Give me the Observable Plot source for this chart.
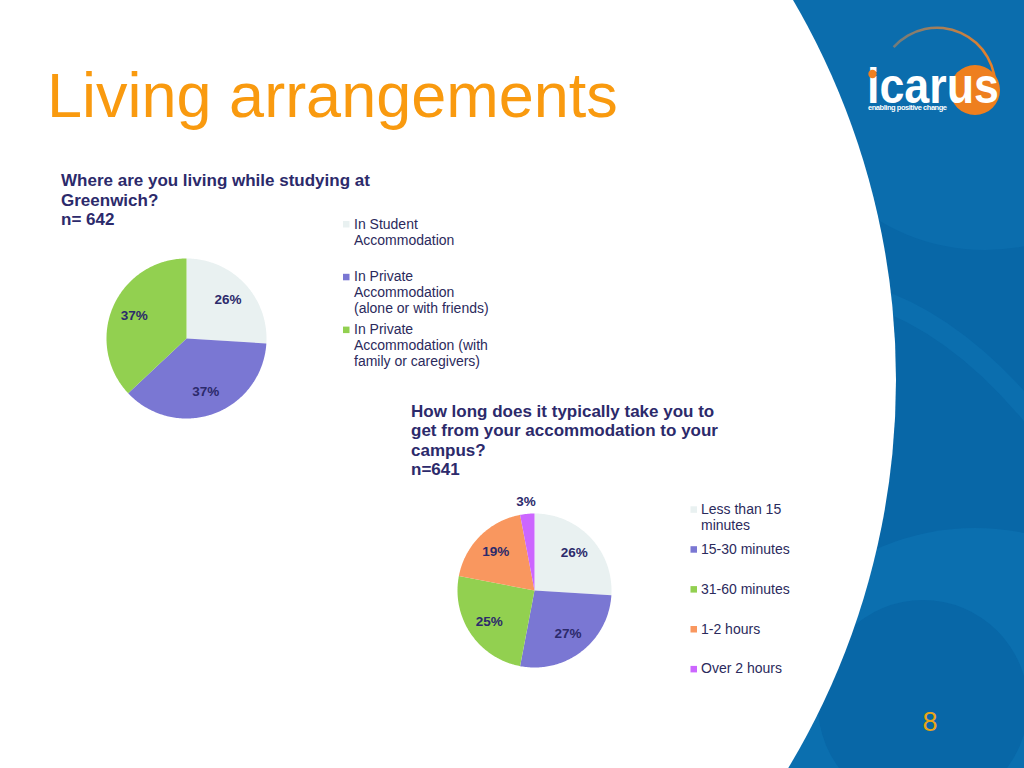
<!DOCTYPE html>
<html><head><meta charset="utf-8">
<script src="https://cdn.jsdelivr.net/npm/d3@7"></script>
<script src="https://cdn.jsdelivr.net/npm/@observablehq/plot@0.6"></script>
<style>
html,body{margin:0;padding:0;background:#fff;}
#slide{position:relative;width:1024px;height:768px;overflow:hidden;font-family:"Liberation Sans",Arial,sans-serif;}
#bg{position:absolute;left:0;top:0;}
.pie{position:absolute;}
</style></head><body><div id="slide"></div>
<script>
// ---- data ----
const slideTitle = "Living arrangements";
const pageNumber = "8";

const q1Title = ["Where are you living while studying at", "Greenwich?", "n= 642"];
const q1Categories = ["In Student\nAccommodation", "In Private\nAccommodation\n(alone or with friends)", "In Private\nAccommodation (with\nfamily or caregivers)"];
const q1Values = [26, 37, 37];
const q1Colors = ["#E9F1F1", "#7A77D3", "#92D050"];

const q2Title = ["How long does it typically take you to", "get from your accommodation to your", "campus?", "n=641"];
const q2Categories = ["Less than 15\nminutes", "15-30 minutes", "31-60 minutes", "1-2 hours", "Over 2 hours"];
const q2Values = [26, 27, 25, 19, 3];
const q2Colors = ["#E9F1F1", "#7A77D3", "#92D050", "#F9975F", "#CC66FF"];

const FONT = "Liberation Sans, Arial, sans-serif";
const NAVY = "#2C2A6B";

// ---- background / decoration ----
const slide = d3.select("#slide");
const svg = slide.append("svg").attr("id", "bg").attr("width", 1024).attr("height", 768)
  .style("font-family", FONT);
svg.append("rect").attr("width", 1024).attr("height", 768).attr("fill", "#0867A7");
svg.append("circle").attr("cx", 985).attr("cy", 45).attr("r", 205).attr("fill", "#0B6DAD");
svg.append("path").attr("d", "M870,296 Q960,325 1040,425").attr("fill", "none")
  .attr("stroke", "#0B6EAE").attr("stroke-width", 20);
svg.append("circle").attr("cx", 975).attr("cy", 770).attr("r", 242).attr("fill", "#0B6FAF");
svg.append("circle").attr("cx", 923).attr("cy", 705).attr("r", 105).attr("fill", "#0867A7");
svg.append("circle").attr("cx", 143.5).attr("cy", 380).attr("r", 752.5).attr("fill", "#FFFFFF");

// logo
const defs = svg.append("defs");
const grad = defs.append("linearGradient").attr("id", "arcg").attr("x1", "0").attr("x2", "1");
grad.append("stop").attr("offset", "0").attr("stop-color", "#D98A4A").attr("stop-opacity", 0.5);
grad.append("stop").attr("offset", "1").attr("stop-color", "#EE8022").attr("stop-opacity", 1);
const arc = d3.arc()({innerRadius: 57, outerRadius: 59.5, startAngle: -0.84, endAngle: 1.68});
svg.append("path").attr("d", arc).attr("transform", "translate(937,86)").attr("fill", "url(#arcg)");
svg.append("circle").attr("cx", 975).attr("cy", 90).attr("r", 25).attr("fill", "#EE7F1F");
svg.append("text").attr("x", 867).attr("y", 103).attr("font-size", 50).attr("font-weight", "bold")
  .attr("fill", "#FFFFFF").attr("textLength", 132).attr("lengthAdjust", "spacingAndGlyphs").text("icarus");
svg.append("circle").attr("cx", 872.5).attr("cy", 74).attr("r", 4.2).attr("fill", "#EE7F1F");
svg.append("text").attr("x", 868).attr("y", 110).attr("font-size", 7.5).attr("font-weight", "bold")
  .attr("fill", "#FFFFFF").attr("textLength", 79).text("enabling positive change");

// page number
svg.append("text").attr("x", 930).attr("y", 731).attr("text-anchor", "middle").attr("font-size", 27)
  .attr("fill", "#E9A516").text(pageNumber);

// slide title
svg.append("text").attr("x", 47).attr("y", 117).attr("font-size", 63).attr("fill", "#F99A0F").text(slideTitle);

// chart titles
function title(lines, x, y0, step) {
  lines.forEach((t, i) => svg.append("text").attr("x", x).attr("y", y0 + i * step)
    .attr("font-size", 17).attr("font-weight", "bold").attr("fill", NAVY).text(t));
}
title(q1Title, 61, 186, 19.5);
title(q2Title, 411, 417, 19.4);

// legends
function legend(cats, colors, sqX, txtX, y0, step) {
  cats.forEach((c, i) => {
    const by = y0 + i * step;
    svg.append("rect").attr("x", sqX).attr("y", by - 7.5).attr("width", 6.5).attr("height", 6.5).attr("fill", colors[i]);
    c.split("\n").forEach((ln, j) => svg.append("text").attr("x", txtX).attr("y", by + j * 16)
      .attr("font-size", 14).attr("fill", "#2B2A5C").text(ln));
  });
}
legend(q1Categories, q1Colors, 343, 354, 228.5, 52.8);
legend(q2Categories, q2Colors, 690.5, 701, 513.8, 39.9);

// ---- pies through Plot ----
function piePlot(cats, vals, colors, r, pad) {
  const total = d3.sum(vals);
  let acc = 0;
  const pts = [], labels = [];
  cats.forEach((c, i) => {
    const a0 = acc / total * 2 * Math.PI; acc += vals[i]; const a1 = acc / total * 2 * Math.PI;
    const n = Math.max(2, Math.ceil((a1 - a0) / (Math.PI / 180)));
    pts.push({key: c, x: 0, y: 0});
    for (let k = 0; k <= n; k++) {
      const a = a0 + (a1 - a0) * k / n;
      pts.push({key: c, x: r * Math.sin(a), y: r * Math.cos(a)});
    }
    const am = (a0 + a1) / 2;
    const lr = vals[i] / total < 0.05 ? 1.16 * r : 0.71 * r;
    labels.push({x: lr * Math.sin(am), y: lr * Math.cos(am), text: vals[i] + "%"});
  });
  const S = r + pad;
  return Plot.plot({
    width: 2 * S, height: 2 * S, margin: 0,
    x: {domain: [-S, S], axis: null},
    y: {domain: [-S, S], axis: null},
    color: {domain: cats, range: colors},
    style: {background: "transparent", overflow: "visible"},
    marks: [
      Plot.line(pts, {x: "x", y: "y", z: "key", fill: "key", stroke: "none", curve: "linear-closed"}),
      Plot.text(labels, {x: "x", y: "y", text: "text", fill: NAVY, fontSize: 13.5, fontWeight: "bold", fontFamily: FONT})
    ]
  });
}

function place(node, cx, cy, S) {
  node.classList.add("pie");
  node.style.left = (cx - S) + "px";
  node.style.top = (cy - S) + "px";
  document.getElementById("slide").appendChild(node);
}
place(piePlot(q1Categories, q1Values, q1Colors, 80, 30), 186, 338, 110);
place(piePlot(q2Categories, q2Values, q2Colors, 77, 33), 534, 590, 110);
</script>
</body></html>
